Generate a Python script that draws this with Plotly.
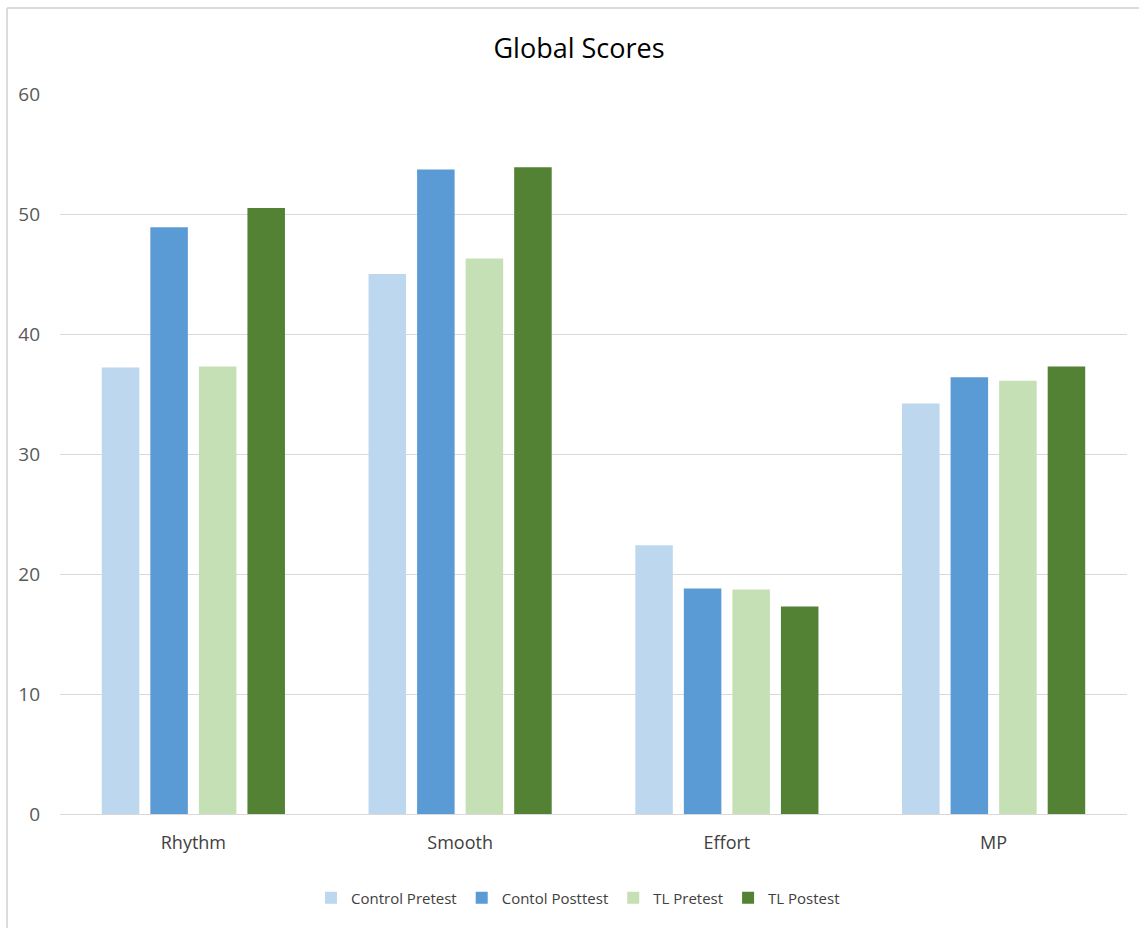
import plotly.graph_objects as go

categories = ["Rhythm", "Smooth", "Effort", "MP"]
series_names = ["Control Pretest", "Contol Posttest", "TL Pretest", "TL Postest"]
control_pre = [37.2, 45.0, 22.4, 34.2]
control_post = [48.9, 53.7, 18.8, 36.4]
tl_pre = [37.3, 46.3, 18.7, 36.1]
tl_post = [50.5, 53.9, 17.3, 37.3]
colors = ["#BDD7EE", "#5B9BD5", "#C5E0B4", "#548235"]
y_ticks = [0, 10, 20, 30, 40, 50, 60]

fig = go.Figure()
for name, vals, col in zip(series_names, [control_pre, control_post, tl_pre, tl_post], colors):
    fig.add_trace(go.Bar(x=categories, y=vals, name=name, marker=dict(color=col, line=dict(width=0))))

font_family = "Open Sans, Noto Sans, sans-serif"
W, H = 1139, 928
L, R, T, B = 60, 12, 94, 114
pw, ph = W - L - R, H - T - B

def px_x(x):
    return (x - L) / pw

def px_y(y):
    return (H - B - y) / ph

fig.update_layout(
    width=W, height=H,
    margin=dict(l=L, r=R, t=T, b=B),
    paper_bgcolor="white", plot_bgcolor="white",
    barmode="group", bargap=0.272, bargroupgap=0.227,
    title=dict(text="Global Scores", x=579 / W, xanchor="center", y=1 - 49 / H, yanchor="middle",
               font=dict(family=font_family, size=27, color="#000000")),
    xaxis=dict(showgrid=False, showline=True, linecolor="#D9D9D9", linewidth=1,
               tickfont=dict(family=font_family, size=18, color="#404040"), ticks="",
               ticklabelstandoff=12),
    yaxis=dict(range=[0, 60], tickvals=y_ticks, showgrid=True, gridcolor="#D9D9D9", gridwidth=1,
               zeroline=False, showline=False, ticks="",
               tickfont=dict(family=font_family, size=19, color="#595959"), ticklabelstandoff=19),
    legend=dict(orientation="h", x=px_x(578), xanchor="center", y=px_y(898), yanchor="middle",
                font=dict(family=font_family, size=15, color="#404040"), itemwidth=30,
                traceorder="normal"),
    shapes=[
        dict(type="line", xref="paper", yref="paper", x0=px_x(7), x1=px_x(W + 5), y0=px_y(8), y1=px_y(8),
             line=dict(color="#D0D0D0", width=1.5)),
        dict(type="line", xref="paper", yref="paper", x0=px_x(7), x1=px_x(7), y0=px_y(8), y1=px_y(H + 5),
             line=dict(color="#D0D0D0", width=1.5)),
    ],
)
fig.write_html("out.html")
